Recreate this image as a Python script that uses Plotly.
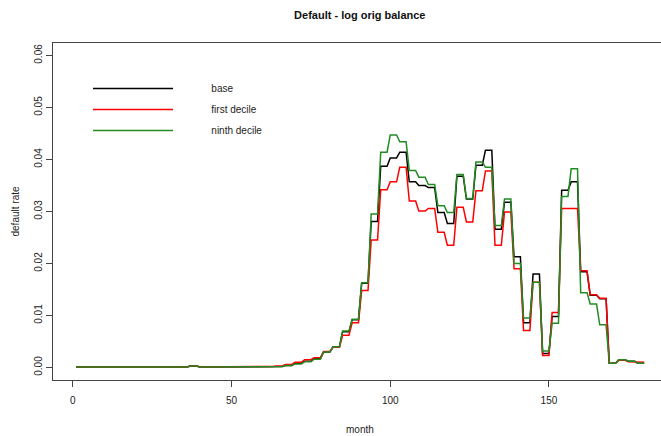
import numpy as np
import plotly.graph_objects as go

# Quarterly default rates (each quarter spans 3 months), months 1..180
base_q = [
    0.0001, 0.0001, 0.0001, 0.0001, 0.0001, 0.0001, 0.0001, 0.0001, 0.0001, 0.0001,
    0.0001, 0.0001, 0.0003, 0.0001, 0.0001, 0.0001, 0.0001, 0.0001, 0.0001, 0.0001,
    0.0001, 0.0002, 0.0004, 0.0008, 0.0012, 0.0017, 0.0030, 0.0040, 0.0069, 0.0092,
    0.0162, 0.0281, 0.0387, 0.0403, 0.0414, 0.0357, 0.0350, 0.0346, 0.0298, 0.0277,
    0.0368, 0.0324, 0.0389, 0.0418, 0.0266, 0.0318, 0.0213, 0.0086, 0.0180, 0.0027,
    0.0098, 0.0341, 0.0357, 0.0184, 0.0139, 0.0132, 0.0008, 0.0015, 0.0012, 0.0008,
]
first_q = [
    0.0001, 0.0001, 0.0001, 0.0001, 0.0001, 0.0001, 0.0002, 0.0001, 0.0001, 0.0001,
    0.0001, 0.0001, 0.0003, 0.0001, 0.0001, 0.0001, 0.0001, 0.0002, 0.0001, 0.0002,
    0.0002, 0.0003, 0.0006, 0.0010, 0.0015, 0.0019, 0.0031, 0.0039, 0.0062, 0.0086,
    0.0148, 0.0245, 0.0342, 0.0357, 0.0385, 0.0320, 0.0301, 0.0306, 0.0260, 0.0235,
    0.0308, 0.0280, 0.0340, 0.0378, 0.0235, 0.0299, 0.0190, 0.0071, 0.0164, 0.0023,
    0.0106, 0.0306, 0.0306, 0.0186, 0.0140, 0.0133, 0.0008, 0.0014, 0.0011, 0.0010,
]
ninth_q = [
    0.0001, 0.0001, 0.0001, 0.0001, 0.0001, 0.0001, 0.0001, 0.0001, 0.0001, 0.0001,
    0.0001, 0.0001, 0.0003, 0.0001, 0.0001, 0.0001, 0.0001, 0.0001, 0.0001, 0.0001,
    0.0001, 0.0002, 0.0004, 0.0007, 0.0011, 0.0016, 0.0030, 0.0040, 0.0070, 0.0093,
    0.0163, 0.0295, 0.0414, 0.0447, 0.0434, 0.0379, 0.0366, 0.0352, 0.0311, 0.0298,
    0.0371, 0.0325, 0.0395, 0.0385, 0.0273, 0.0324, 0.0200, 0.0095, 0.0164, 0.0032,
    0.0085, 0.0329, 0.0382, 0.0144, 0.0122, 0.0082, 0.0008, 0.0015, 0.0012, 0.0008,
]
months = list(range(1, 181))
x_ticks = [0, 50, 100, 150]
y_ticks = [0.00, 0.01, 0.02, 0.03, 0.04, 0.05, 0.06]

series = [
    ("base", base_q, "#000000"),
    ("first decile", first_q, "#ff0000"),
    ("ninth decile", ninth_q, "#228b22"),
]

FONT = "Liberation Sans, Arial, sans-serif"
PAD = "\u00a0" * 12  # gap between legend line and label, as in the original
fig = go.Figure()
for name, q, color in series:
    fig.add_trace(go.Scatter(
        x=months, y=np.repeat(q, 3), mode="lines", name=PAD + name,
        legendgroup=name,
        line=dict(color=color, width=1.5),
    ))

fig.update_layout(
    width=661, height=436,
    margin=dict(l=53, r=0, t=43, b=56),
    paper_bgcolor="white", plot_bgcolor="white",
    font=dict(family=FONT, size=10, color="#222"),
    title=dict(text="<b>Default - log orig balance</b>", x=0.5046, xanchor="center",
               xref="paper", y=1 - 15 / 436, yref="container", yanchor="middle",
               font=dict(size=11, color="#111")),
    showlegend=True,
    legend=dict(x=(88 - 53) / 608, y=(380 - 74) / 337, xanchor="left", yanchor="top",
                bgcolor="rgba(0,0,0,0)", borderwidth=0, itemwidth=80,
                font=dict(size=10, color="#222"), tracegroupgap=2,
                traceorder="grouped"),
    xaxis=dict(range=[-6.24, 185.3], tickmode="array", tickvals=x_ticks,
               ticktext=[str(v) for v in x_ticks], ticks="outside", ticklen=6,
               tickcolor="#444", showline=True, linecolor="#444", linewidth=1,
               mirror=True, showgrid=False, zeroline=False,
               ticklabelstandoff=5, tickfont=dict(size=10)),
    yaxis=dict(range=[-0.0024, 0.0624], tickmode="array", tickvals=y_ticks,
               ticktext=["%.2f" % v for v in y_ticks], ticks="outside", ticklen=6,
               tickcolor="#444", showline=True, linecolor="#444", linewidth=1,
               showgrid=False, zeroline=False, tickangle=-90,
               tickfont=dict(size=10)),
    annotations=[
        dict(text="month", xref="paper", yref="paper", x=(360 - 53) / 608,
             y=(380 - 429) / 337, showarrow=False, xanchor="center", yanchor="middle",
             font=dict(size=10)),
        dict(text="default rate", xref="paper", yref="paper", x=(15 - 53) / 608,
             y=0.5, showarrow=False, textangle=-90, xanchor="center", yanchor="middle",
             font=dict(size=10)),
    ],
)
fig.write_html("out.html")
